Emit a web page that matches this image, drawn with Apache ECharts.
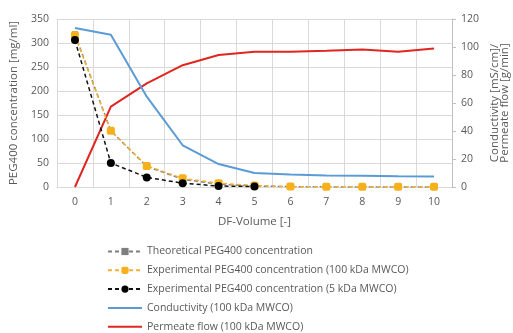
<!DOCTYPE html>
<html>
<head>
<meta charset="utf-8">
<script src="https://cdn.jsdelivr.net/npm/echarts@6/dist/echarts.min.js"></script>
<style>
  html, body { margin: 0; padding: 0; background: #fff; }
  #chart { width: 513px; height: 333px; }
</style>
</head>
<body>
<div id="chart"></div>
<script>
// DF-volume steps
const dfVolumes = ['0', '1', '2', '3', '4', '5', '6', '7', '8', '9', '10'];

// PEG400 concentration [mg/ml] (left axis)
const theoreticalPeg = [318, 117, 43, 16, 6, 2, 0.8, 0.3, 0.1, 0.05, 0.02];
const experimental100kDa = [316, 117, 44, 18, 8, 3, 0.8, 0.5, 0.5, 0.5, 0.5];
const experimental5kDa = [306, 50, 20, 8, 2, 1, null, null, null, null, null];

// Conductivity [mS/cm] and permeate flow [g/min] (right axis)
const conductivity100kDa = [113.5, 108.8, 64.5, 29.8, 16.4, 10, 9, 8.3, 8, 7.7, 7.5];
const permeateFlow100kDa = [0, 57.4, 74, 87, 94.3, 96.6, 96.6, 97.3, 98.2, 96.6, 99];

const leftTicks = { min: 0, max: 350, interval: 50 };
const rightTicks = { min: 0, max: 120, interval: 20 };

const textGray = '#595959';
const gridGray = '#d9d9d9';
const fontFamily = '"Open Sans", "Liberation Sans", sans-serif';

const chart = echarts.init(document.getElementById('chart'), null, { renderer: 'canvas' });

// solid-line legend entries show only the line, no marker
const lineOnly = { itemStyle: { opacity: 0 } };

chart.setOption({
  animation: false,
  textStyle: { fontFamily: fontFamily, color: textGray },
  grid: { left: 57, right: 61, top: 19, bottom: 146 },
  legend: {
    orient: 'vertical',
    left: 107,
    top: 246,
    padding: 0,
    itemWidth: 34,
    itemHeight: 9,
    itemGap: 7.8,
    textStyle: { fontSize: 10.5, color: textGray, fontFamily: fontFamily },
    data: [
      { name: 'Theoretical PEG400 concentration' },
      { name: 'Experimental PEG400 concentration (100 kDa MWCO)' },
      { name: 'Experimental PEG400 concentration (5 kDa MWCO)' },
      Object.assign({ name: 'Conductivity (100 kDa MWCO)' }, lineOnly),
      Object.assign({ name: 'Permeate flow (100 kDa MWCO)' }, lineOnly)
    ]
  },
  xAxis: {
    type: 'category',
    data: dfVolumes,
    boundaryGap: true,
    name: 'DF-Volume [-]',
    nameLocation: 'middle',
    nameGap: 29,
    nameTextStyle: { fontSize: 11.5, color: textGray },
    axisLine: { lineStyle: { color: gridGray } },
    axisTick: { show: false },
    axisLabel: { margin: 10, fontSize: 10.5, color: textGray },
    splitLine: { show: true, lineStyle: { color: gridGray, width: 1 } }
  },
  yAxis: [
    {
      type: 'value',
      min: leftTicks.min,
      max: leftTicks.max,
      interval: leftTicks.interval,
      name: 'PEG400 concentration [mg/ml]',
      nameLocation: 'middle',
      nameGap: 34,
      nameTextStyle: { fontSize: 11.5, color: textGray },
      axisLine: { show: false },
      axisTick: { show: false },
      axisLabel: { margin: 8, fontSize: 10.5, color: textGray },
      splitLine: { show: true, lineStyle: { color: gridGray, width: 1 } }
    },
    {
      type: 'value',
      position: 'right',
      min: rightTicks.min,
      max: rightTicks.max,
      interval: rightTicks.interval,
      axisLine: { show: true, lineStyle: { color: '#bfbfbf' } },
      axisTick: { show: true, length: 4, inside: false, lineStyle: { color: '#bfbfbf' } },
      axisLabel: { margin: 9, fontSize: 10.5, color: textGray },
      splitLine: { show: false }
    }
  ],
  graphic: [
    {
      type: 'text',
      x: 500,
      y: 103,
      rotation: Math.PI / 2,
      style: {
        text: 'Conductivity [mS/cm]/\nPermeate flow [g/min]',
        fill: textGray,
        fontSize: 11.5,
        fontFamily: fontFamily,
        align: 'center',
        verticalAlign: 'middle',
        lineHeight: 10
      }
    }
  ],
  series: [
    {
      name: 'Permeate flow (100 kDa MWCO)',
      type: 'line',
      yAxisIndex: 1,
      data: permeateFlow100kDa,
      symbol: 'none',
      lineStyle: { color: '#e0261f', width: 2 },
      itemStyle: { color: '#e0261f' },
      z: 2
    },
    {
      name: 'Conductivity (100 kDa MWCO)',
      type: 'line',
      yAxisIndex: 1,
      data: conductivity100kDa,
      symbol: 'none',
      lineStyle: { color: '#5b9bd5', width: 2 },
      itemStyle: { color: '#5b9bd5' },
      z: 2
    },
    {
      name: 'Theoretical PEG400 concentration',
      type: 'line',
      yAxisIndex: 0,
      data: theoreticalPeg,
      symbol: 'rect',
      symbolSize: 6,
      lineStyle: { color: '#7f7f7f', width: 1.5, type: [4, 3] },
      itemStyle: { color: '#7f7f7f' },
      z: 3
    },
    {
      name: 'Experimental PEG400 concentration (100 kDa MWCO)',
      type: 'line',
      yAxisIndex: 0,
      data: experimental100kDa,
      symbol: 'roundRect',
      symbolSize: 8,
      lineStyle: { color: '#f2b134', width: 1.5, type: [4, 3] },
      itemStyle: { color: '#f5b01c' },
      z: 4
    },
    {
      name: 'Experimental PEG400 concentration (5 kDa MWCO)',
      type: 'line',
      yAxisIndex: 0,
      data: experimental5kDa,
      symbol: 'circle',
      symbolSize: 8,
      lineStyle: { color: '#111111', width: 1.5, type: [4, 3] },
      itemStyle: { color: '#000000' },
      z: 5
    }
  ]
});
</script>
</body>
</html>
